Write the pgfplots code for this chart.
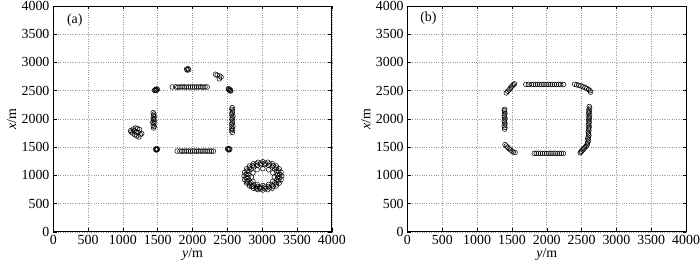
\documentclass[border=0pt]{standalone}
\usepackage{pgfplots}
\pgfplotsset{compat=1.18}
\usepackage{fontspec}
\setmainfont{Liberation Serif}
\begin{document}
\fontsize{14}{16}\selectfont
\pgfplotsset{
  panel/.style={
    width=280bp, height=227bp, scale only axis,
    xmin=0, xmax=4000, ymin=0, ymax=4000,
    xtick={0,500,...,4000}, ytick={0,500,...,4000},
    scaled ticks=false,
    /pgf/number format/assume math mode=true,
    /pgf/number format/1000 sep={},
    tick align=inside, major tick length=3.5bp,
    tick style={black, line width=0.5bp},
    axis line style={line width=0.8bp},
    grid=major, major grid style={dotted, gray!80, line width=0.6bp},
    xlabel={\textit{y}/m}, ylabel={\textit{x}/m},
    xlabel style={yshift=6bp},
    ylabel style={yshift=-4bp},
    every tick label/.append style={font=\fontsize{14}{16}\selectfont},
    label style={font=\fontsize{14}{16}\selectfont},
    xticklabel style={yshift=1bp},
    yticklabel style={xshift=1bp},
  },
  pts/.style={only marks, mark=o, mark size=2.4bp, mark options={black, line width=0.5bp}},
}
\begin{tikzpicture}
\useasboundingbox (-50bp,-34bp) rectangle (650bp,233bp);
\begin{axis}[panel, at={(0,0)}, anchor=origin]
\node[anchor=center] at (axis cs:310,3740) {(a)};
\addplot[pts] coordinates {
(1915,2880) (1935,2890) (1945,2870) (1925,2865)
(2330,2790) (2355,2775) (2390,2760) (2410,2740) (2385,2710)
(1455,2505) (1470,2520) (1485,2530) (1495,2520) (1480,2505) (1465,2510)
(1710,2565) (1760,2568) (1790,2562) (1820,2566) (1850,2564) (1880,2568) (1910,2562) (1940,2566)
(1970,2564) (2000,2567) (2030,2563) (2060,2566) (2090,2564) (2120,2568) (2150,2562) (2180,2566) (2210,2565)
(2515,2535) (2530,2525) (2545,2510) (2550,2495) (2535,2500) (2520,2520)
(1440,1840) (1450,1865) (1435,1890) (1445,1915) (1430,1940) (1450,1960) (1440,1985) (1435,2010)
(1450,2035) (1440,2060) (1445,2085) (1435,2110)
(2570,1760) (2560,1790) (2575,1815) (2565,1840) (2580,1870) (2560,1900) (2570,1930) (2575,1960)
(2565,1990) (2570,2020) (2580,2050) (2560,2080) (2570,2110) (2575,2140) (2565,2170) (2570,2200)
(1120,1770) (1150,1820) (1180,1840) (1210,1830) (1240,1810) (1140,1750) (1170,1720) (1200,1700)
(1230,1680) (1270,1740) (1190,1770) (1160,1790) (1220,1760) (1110,1790) (1250,1720)
(1470,1460) (1485,1475) (1495,1465) (1480,1450) (1490,1455)
(1780,1430) (1820,1432) (1850,1428) (1880,1431) (1910,1429) (1940,1432) (1970,1428) (2000,1430)
(2030,1431) (2060,1429) (2090,1432) (2120,1428) (2150,1430) (2180,1431) (2210,1429) (2240,1430) (2270,1430) (2300,1430)
(2510,1465) (2525,1475) (2535,1460) (2520,1450) (2505,1470)
(3280,990) (3271,1055) (3244,1115) (3201,1167) (3145,1207) (3080,1232) (3010,1240) (2940,1232)
(2875,1207) (2819,1167) (2776,1115) (2749,1055) (2740,990) (2749,925) (2776,865) (2819,813)
(2875,773) (2940,748) (3010,740) (3080,748) (3145,773) (3201,813) (3244,865) (3271,925)
(3253,1020) (3236,1077) (3204,1129) (3159,1171) (3104,1201) (3042,1216) (2978,1216) (2916,1201)
(2861,1171) (2816,1129) (2784,1077) (2767,1020) (2767,960) (2784,903) (2816,851) (2861,809)
(2916,779) (2978,764) (3042,764) (3104,779) (3159,809) (3204,851) (3236,903) (3253,960)
(3223,1016) (3209,1067) (3180,1112) (3141,1149) (3092,1175) (3038,1188) (2982,1188) (2928,1175)
(2879,1149) (2840,1112) (2811,1067) (2797,1016) (2797,964) (2811,913) (2840,868) (2879,831)
(2928,805) (2982,792) (3038,792) (3092,805) (3141,831) (3180,868) (3209,913) (3223,964)
(3175,970) (3153,1045) (3093,1100) (3010,1120) (2928,1100) (2867,1045) (2845,970) (2867,895)
(2928,840) (3010,820) (3093,840) (3153,895)
(2790,880) (2850,800) (2920,760) (2960,780)
};
\end{axis}
\begin{axis}[panel, at={(356bp,0)}, anchor=origin]
\node[anchor=center] at (axis cs:300,3790) {(b)};
\addplot[pts] coordinates {
(1420,2460) (1440,2490) (1460,2515) (1475,2540) (1490,2565) (1505,2585) (1520,2605) (1535,2620)
(1700,2610) (1740,2612) (1780,2608) (1810,2611) (1840,2609) (1870,2612) (1900,2608) (1930,2610)
(1960,2611) (1990,2609) (2020,2612) (2050,2608) (2080,2610) (2110,2611) (2140,2609) (2170,2612) (2200,2608) (2240,2610)
(2400,2615) (2430,2605) (2460,2595) (2490,2585) (2520,2570) (2550,2555) (2575,2540) (2600,2520) (2620,2500) (2630,2475)
(1395,1820) (1400,1850) (1390,1880) (1400,1910) (1395,1940) (1390,1970) (1400,2000) (1395,2030)
(1390,2060) (1400,2090) (1395,2120) (1390,2150) (1395,2170)
(2610,2220) (2615,2190) (2605,2160) (2610,2130) (2600,2100) (2615,2070) (2605,2040) (2610,2010)
(2600,1980) (2610,1950) (2605,1920) (2600,1890) (2610,1860) (2600,1830) (2605,1800) (2595,1770)
(2600,1740) (2605,1710) (2595,1680) (2590,1650) (2600,1620) (2590,1590) (2585,1560)
(2575,1535) (2560,1510) (2545,1490) (2530,1470) (2515,1450) (2500,1430) (2490,1415) (2480,1400)
(1400,1545) (1420,1520) (1440,1495) (1460,1470) (1480,1450) (1500,1430) (1520,1415) (1545,1405)
(1820,1390) (1850,1392) (1880,1388) (1910,1391) (1940,1389) (1970,1392) (2000,1388) (2030,1390)
(2060,1391) (2090,1389) (2120,1392) (2150,1388) (2180,1390) (2210,1391) (2240,1389)
};
\end{axis}
\end{tikzpicture}
\end{document}
